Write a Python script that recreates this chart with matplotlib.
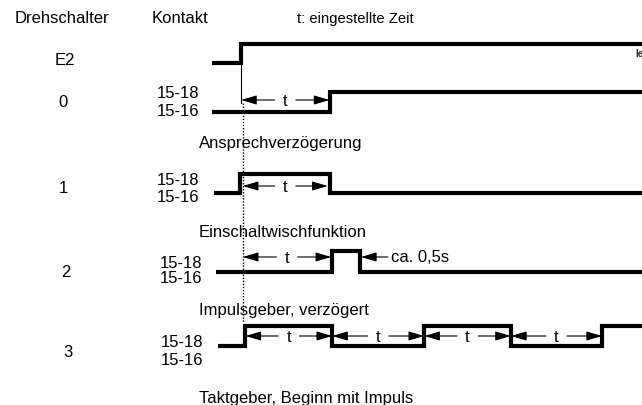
import matplotlib
matplotlib.use("Agg")
import matplotlib.pyplot as plt

plt.rcParams['font.family'] = ['Liberation Sans', 'DejaVu Sans']

# ---------------- data (time in units of the set time t) ----------------
row_names = ["E2", "0", "1", "2", "3"]
contact_top = ["", "15-18", "15-18", "15-18", "15-18"]
contact_bot = ["", "15-16", "15-16", "15-16", "15-16"]
section_titles = ["Ansprechverzögerung", "Einschaltwischfunktion",
                  "Impulsgeber, verzögert", "Taktgeber, Beginn mit Impuls"]
header_labels = ["Drehschalter", "Kontakt", "t: eingestellte Zeit"]

# start time of each trace (all start low) and switching instants
trace_start = [-0.33, -0.33, -0.31, -0.28, -0.26]
trace_end = 4.7
switch_times = [
    [0.0],                                 # E2
    [1.0],                                 # 0
    [-0.01, 1.0],                          # 1
    [1.03, 1.345],                         # 2
    [0.05, 1.03, 2.07, 3.05, 4.08],        # 3
]
# time intervals marked with "t"
t_intervals = [
    [],
    [(0.0, 1.0)],
    [(0.02, 0.98)],
    [(0.02, 1.02)],
    [(0.05, 1.03), (1.03, 2.07), (2.07, 3.05), (3.05, 4.08)],
]
pulse_label = "ca. 0,5s"
pulse_arrow = (1.355, 1.66)   # tip, tail

# ---------------- layout (pixels, y downward) ----------------
X0_PX, UNIT_PX = 241.0, 88.5
def px2t(x):
    return (x - X0_PX) / UNIT_PX

levels = [(64, 45), (113, 93), (194, 175), (273, 252), (347, 327)]  # (low, high)
arrow_y = [None, 101, 187, 258, 337]
name_y = [65, 107, 193, 277, 357]
name_x = [65, 63, 63, 66, 68]
ctop_y = [None, 98, 185, 268, 347]
cbot_y = [None, 116, 202, 283, 365]
c_x = [None, 157, 157, 160, 161]
title_y = [148, 237, 315, 403]

fig = plt.figure(figsize=(6.42, 4.06), dpi=100)
ax = fig.add_axes([0, 0, 1, 1])
ax.set_xlim(px2t(0), px2t(642))
ax.set_ylim(406, 0)
ax.axis('off')

FS = 12

# headers
ax.text(px2t(15), 23, header_labels[0], fontsize=FS, ha='left', va='baseline')
ax.text(px2t(152), 23, header_labels[1], fontsize=FS, ha='left', va='baseline')
ax.text(px2t(297), 23, header_labels[2], fontsize=10.6, ha='left', va='baseline')

# traces
for i, sw in enumerate(switch_times):
    low, high = levels[i]
    xs = [trace_start[i]]
    ys = [low]
    state = low
    for s in sw:
        xs.append(s); ys.append(state)
        state = high if state == low else low
        xs.append(s); ys.append(state)
    xs.append(trace_end); ys.append(state)
    ax.plot(xs, ys, color='black', lw=3, solid_joinstyle='miter',
            solid_capstyle='butt', clip_on=True)

    ax.text(px2t(name_x[i]), name_y[i], row_names[i], fontsize=FS,
            ha='center', va='baseline')
    if contact_top[i]:
        ax.text(px2t(c_x[i]), ctop_y[i], contact_top[i], fontsize=FS,
                ha='left', va='baseline')
        ax.text(px2t(c_x[i]), cbot_y[i], contact_bot[i], fontsize=FS,
                ha='left', va='baseline')

# "t" arrows
GAP = 0.12
ap = dict(arrowstyle='-|>,head_length=0.95,head_width=0.28', lw=0.8,
          color='black', shrinkA=0, shrinkB=0, mutation_scale=10)
for i, ivs in enumerate(t_intervals):
    for (a, b) in ivs:
        m = (a + b) / 2
        y = arrow_y[i]
        ax.annotate('', xy=(a, y), xytext=(m - GAP, y), arrowprops=ap)
        ax.annotate('', xy=(b, y), xytext=(m + GAP, y), arrowprops=ap)
        ax.text(m, y + 5, 't', fontsize=FS, ha='center', va='baseline')

# pulse arrow
ax.annotate('', xy=(pulse_arrow[0], arrow_y[3]), xytext=(pulse_arrow[1], arrow_y[3]),
            arrowprops=ap)
ax.text(px2t(391), 262, pulse_label, fontsize=FS, ha='left', va='baseline')

# section titles
for k, title in enumerate(section_titles):
    ax.text(px2t(199), title_y[k], title, fontsize=FS, ha='left', va='baseline')

# reference lines
ax.plot([0, 0], [64, 104], color='black', lw=0.8)
ax.plot([px2t(242.7), px2t(242.7)], [104, 324], color='black', lw=1.0,
        linestyle=(0, (1, 1.2)))

ax.text(px2t(635), 57, 'le', fontsize=7, fontweight='bold', color='#333333',
        ha='left', va='baseline')

fig.savefig('out.png', dpi=100)
